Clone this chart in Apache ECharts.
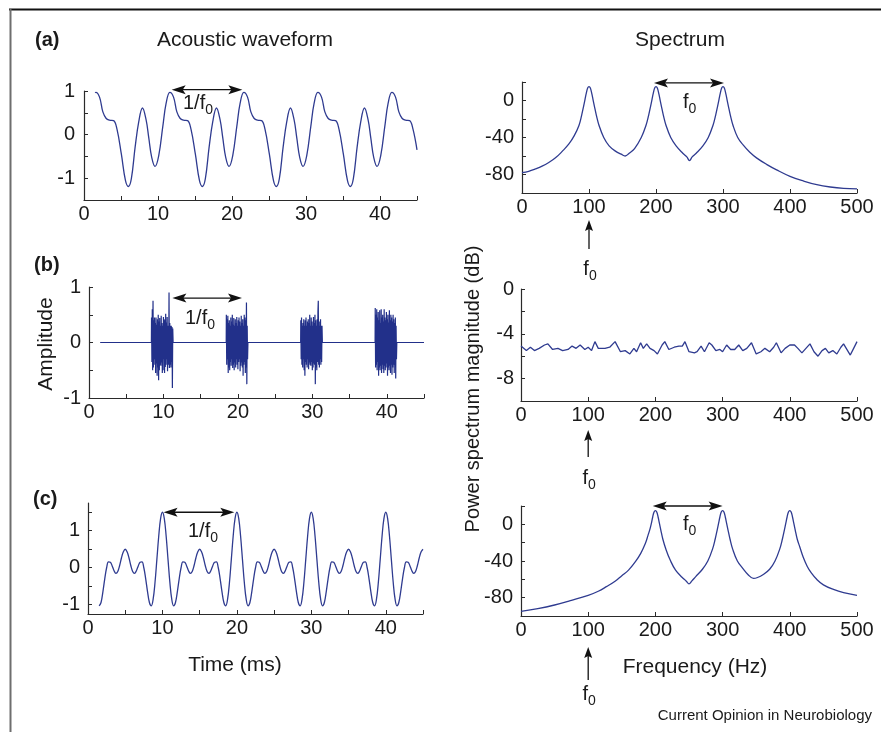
<!DOCTYPE html>
<html><head><meta charset="utf-8">
<script src="https://cdn.jsdelivr.net/npm/echarts@6/dist/echarts.min.js"></script>
<style>html,body{margin:0;padding:0;background:#fff}#main{width:881px;height:732px}</style>
</head><body><div id="main"></div>
<script>
// ---------- DATA ----------
// (a) acoustic waveform: time (ms) and amplitude
const timeA = [1.5,1.6,2.1,2.55,3.0,3.45,4.0,4.45,5.05,5.6,6.0,6.4,6.9,7.4,7.9,8.4,8.75,9.15,9.6,10.1,10.65,11.1,
  11.6,12.1,12.55,13.0,13.45,14.0,14.45,15.05,15.6,16.0,16.4,16.9,17.4,17.9,18.4,18.75,19.15,19.6,20.1,20.65,21.1,
  21.6,22.1,22.55,23.0,23.45,24.0,24.45,25.05,25.6,26.0,26.4,26.9,27.4,27.9,28.4,28.75,29.15,29.6,30.1,30.65,31.1,
  31.6,32.1,32.55,33.0,33.45,34.0,34.45,35.05,35.6,36.0,36.4,36.9,37.4,37.9,38.4,38.75,39.15,39.6,40.1,40.65,41.1,
  41.6,42.1,42.55,43.0,43.45,44.0,44.45,45.0];
const ampA = [0.96,0.97,0.86,0.52,0.37,0.33,0.32,0.13,-0.45,-1.05,-1.19,-1.01,-0.3,0.3,0.61,0.33,-0.07,-0.52,-0.73,-0.48,0.19,0.72,
  0.97,0.86,0.52,0.37,0.33,0.32,0.13,-0.45,-1.05,-1.19,-1.01,-0.3,0.3,0.61,0.33,-0.07,-0.52,-0.73,-0.48,0.19,0.72,
  0.97,0.86,0.52,0.37,0.33,0.32,0.13,-0.45,-1.05,-1.19,-1.01,-0.3,0.3,0.61,0.33,-0.07,-0.52,-0.73,-0.48,0.19,0.72,
  0.97,0.86,0.52,0.37,0.33,0.32,0.13,-0.45,-1.05,-1.19,-1.01,-0.3,0.3,0.61,0.33,-0.07,-0.52,-0.73,-0.48,0.19,0.72,
  0.97,0.86,0.52,0.37,0.33,0.32,0.13,-0.35];

// (b) noise bursts: start time (ms), sample step (ms), amplitudes
const burstStarts = [8.4, 18.45, 28.45, 38.45];
const burstStep = 0.05;
const burst1 = [0.45,-0.35,0.6,-0.5,0.75,-0.45,0.4,-0.3,0.45,-0.4,0.35,-0.55,0.45,-0.38,0.32,-0.6,0.42,-0.45,0.5,-0.68,0.38,-0.5,0.44,-0.4,0.3,-0.42,0.48,-0.36,0.35,-0.55,0.3,-0.5,0.46,-0.3,0.42,-0.55,0.4,-0.44,0.52,-0.4,0.36,-0.3,0.46,-0.52,0.3,-0.4,-0.36,0.9,-0.46,0.35,-0.4,0.3,-0.45,0.3,-0.35,0.28,-0.82,0.25];
const burst2 = [0.5,-0.4,0.42,-0.3,0.48,-0.55,0.35,-0.45,0.4,-0.5,0.3,-0.35,0.45,-0.42,0.38,-0.3,0.5,-0.46,0.32,-0.4,0.44,-0.5,0.3,-0.36,0.42,-0.45,0.35,-0.3,0.46,-0.4,0.3,-0.48,0.4,-0.35,0.45,-0.3,0.38,-0.52,0.3,-0.42,0.48,-0.36,0.35,-0.45,0.42,-0.6,0.3,-0.4,0.5,-0.35,0.45,-0.55,0.4,-0.45,0.72,-0.75,0.3,-0.3];
const burst3 = [0.4,-0.3,0.45,-0.4,0.3,-0.45,0.35,-0.3,0.42,-0.5,0.3,-0.6,0.4,-0.35,0.45,-0.4,0.3,-0.45,0.38,-0.3,0.42,-0.48,0.35,-0.36,0.5,-0.4,0.3,-0.42,0.45,-0.35,0.38,-0.5,0.3,-0.45,0.46,-0.38,0.35,-0.4,0.5,-0.75,0.4,-0.45,0.3,-0.5,0.42,-0.35,0.55,0.75,-0.4,0.3,-0.45,0.38,-0.3,0.42,-0.4,0.3,-0.35,0.3];
const burst4 = [0.62,-0.45,0.5,-0.4,0.6,-0.5,0.45,-0.35,0.55,-0.6,0.4,-0.45,0.58,-0.5,0.35,-0.42,0.6,-0.55,0.45,-0.4,0.5,-0.48,0.38,-0.55,0.6,-0.42,0.45,-0.5,0.4,-0.45,0.55,-0.38,0.42,-0.6,0.5,-0.45,0.36,-0.5,0.58,-0.42,0.4,-0.55,0.5,-0.4,0.45,-0.58,0.38,-0.45,0.5,-0.4,0.42,-0.55,0.35,-0.4,0.45,-0.65,0.3,-0.3];
const timeBStart = 1.5, timeBEnd = 45;

// (c) waveform sampled every 0.25 ms from 1.5 ms
const timeCStart = 1.5, timeCStep = 0.25;
const ampC = [-1.03,-0.94,-0.65,-0.30,0.0,0.16,0.15,0.05,-0.08,-0.15,-0.10,0.06,0.27,0.43,0.5,0.43,0.27,0.06,-0.10,-0.15,-0.08,0.05,0.15,0.16,0.0,-0.30,-0.65,-0.94,-1.03,-0.85,-0.40,0.22,0.85,1.33,
  1.5,1.33,0.85,0.22,-0.40,-0.85,-1.03,-0.94,-0.65,-0.30,0.0,0.16,0.15,0.05,-0.08,-0.15,-0.10,0.06,0.27,0.43,0.5,0.43,0.27,0.06,-0.10,-0.15,-0.08,0.05,0.15,0.16,0.0,-0.30,-0.65,-0.94,-1.03,-0.85,-0.40,0.22,0.85,1.33,
  1.5,1.33,0.85,0.22,-0.40,-0.85,-1.03,-0.94,-0.65,-0.30,0.0,0.16,0.15,0.05,-0.08,-0.15,-0.10,0.06,0.27,0.43,0.5,0.43,0.27,0.06,-0.10,-0.15,-0.08,0.05,0.15,0.16,0.0,-0.30,-0.65,-0.94,-1.03,-0.85,-0.40,0.22,0.85,1.33,
  1.5,1.33,0.85,0.22,-0.40,-0.85,-1.03,-0.94,-0.65,-0.30,0.0,0.16,0.15,0.05,-0.08,-0.15,-0.10,0.06,0.27,0.43,0.5,0.43,0.27,0.06,-0.10,-0.15,-0.08,0.05,0.15,0.16,0.0,-0.30,-0.65,-0.94,-1.03,-0.85,-0.40,0.22,0.85,1.33,
  1.5,1.33,0.85,0.22,-0.40,-0.85,-1.03,-0.94,-0.65,-0.30,0.0,0.16,0.15,0.05,-0.08,-0.15,-0.10,0.06,0.27,0.43,0.5];

// Spectra (Hz, dB)
const freqSA = [0,10,20,30,40,50,60,70,78,85,89,92,94,96,98,100,102,104,106,108,111,115,122,130,140,148,154,160,168,178,185,189,192,194,196,198,200,202,204,206,208,211,215,222,230,240,246,250,254,260,270,278,285,289,292,294,296,298,300,302,304,306,308,311,315,322,330,340,350,365,380,400,420,440,460,480,500];
const dbSA = [-78,-76.5,-74,-71,-67,-62,-55,-47,-38,-27,-16,-6,1,8,13.5,15,13.5,8,1,-6,-16,-27,-40,-49,-55,-58,-60,-57,-52,-40,-27,-16,-6,1,8,13.5,15,13.5,8,1,-6,-16,-27,-40,-49,-57,-61,-65,-61,-57,-49,-40,-27,-16,-6,1,8,13.5,15,13.5,8,1,-6,-16,-27,-40,-48,-56,-62,-69,-75,-82,-87,-91,-93.5,-95,-95.5];
const freqSB = [0,4,8,14,20,27,35,40,47,55,62,70,76,82,88,95,100,105,110,115,125,132,140,148,155,162,168,172,178,182,187,192,198,203,210,214,220,228,235,240,244,250,258,262,268,273,280,284,290,296,300,306,312,318,324,330,336,343,350,357,363,370,376,380,387,393,400,407,412,418,424,430,436,442,448,453,458,464,470,476,480,486,490,495,500];
const dbSB = [-5.1,-5.3,-5.5,-5.2,-5.5,-5.3,-5.0,-4.9,-5.4,-5.3,-5.5,-5.4,-5.1,-5.3,-5.0,-5.4,-5.2,-5.5,-4.7,-5.3,-5.3,-5.2,-4.7,-5.6,-5.5,-5.8,-5.3,-5.6,-4.8,-5.3,-4.9,-5.3,-5.5,-5.8,-5.0,-4.7,-5.4,-5.2,-5.1,-5.1,-4.7,-5.6,-5.7,-5.6,-5.1,-5.6,-4.8,-5.0,-5.5,-5.4,-5.6,-5.0,-5.4,-5.4,-5.0,-5.5,-5.3,-4.8,-5.8,-5.6,-5.3,-5.6,-5.2,-4.8,-5.7,-5.3,-5.0,-5.0,-5.3,-5.7,-5.3,-4.9,-5.6,-6.0,-5.5,-5.3,-5.7,-5.5,-5.8,-5.2,-4.9,-5.5,-5.9,-5.3,-4.7];
const freqSC = [0,25,50,75,100,115,127,140,150,160,170,178,185,189,192,194,196,198,200,202,204,206,208,211,216,222,230,240,246,250,254,260,270,278,285,289,292,294,296,298,300,302,304,306,308,311,315,322,330,338,346,352,360,370,378,385,389,392,394,396,398,400,402,404,406,408,411,415,420,426,432,440,450,465,480,500];
const dbSC = [-95,-92,-88,-83,-77.5,-73,-68,-62,-56,-50,-41,-32,-21,-12,-5,1,8,13.5,15,13.5,8,1,-6,-16,-28,-39,-50,-58,-62,-65,-62,-57,-49,-40,-27,-16,-6,1,8,13.5,15,13.5,8,1,-6,-16,-27,-40,-48,-55,-59,-58,-55,-49,-40,-27,-16,-6,1,8,13.5,15,13.5,8,1,-6,-16,-25,-36,-46,-53,-60,-66,-71,-74.5,-77.5];

// ---------- STYLE / LAYOUT ----------
const FONT = '"Liberation Sans", Arial, Helvetica, sans-serif';
const LINE = '#2f3b90', AX = '#2a2a2a', TXT = '#1a1a1a';

const pairs = (xs, ys) => xs.map((x, i) => [x, ys[i]]);
const dataA = pairs(timeA, ampA);
const dataB = [[timeBStart, 0]];
[burst1, burst2, burst3, burst4].forEach((b, k) => {
  const s = burstStarts[k];
  dataB.push([s - 0.02, 0]);
  b.forEach((v, i) => dataB.push([s + i * burstStep, v]));
  dataB.push([s + b.length * burstStep, 0]);
});
dataB.push([timeBEnd, 0]);
const dataC = ampC.map((v, i) => [timeCStart + i * timeCStep, v]);

const grids = [
  {left: 84, top: 91, width: 333, height: 109},
  {left: 89, top: 287, width: 335, height: 111},
  {left: 88, top: 503, width: 335, height: 111},
  {left: 88, top: 512, width: 335, height: 92.5},
  {left: 522, top: 82, width: 335, height: 111},
  {left: 521, top: 289, width: 336, height: 112},
  {left: 521, top: 506, width: 336, height: 110}
].map(g => Object.assign({outerBoundsMode: 'none', containLabel: false}, g));

const intFmt = v => Number.isInteger(v) ? String(v) : '';
const tenFmt = v => (v % 10 === 0) ? String(v) : '';
const fortyFmt = v => (v % 40 === 0) ? String(v) : '';
const fourFmt = v => (v % 4 === 0) ? String(v) : '';
const allFmt = v => String(v);

function xAx(gi, min, max, interval, fmt) {
  return {type: 'value', gridIndex: gi, min, max, interval,
    axisLine: {show: true, onZero: false, lineStyle: {color: AX, width: 1.2}},
    axisTick: {show: true, inside: true, length: 4, lineStyle: {color: AX, width: 1}},
    axisLabel: {show: true, margin: 4, color: TXT, fontSize: 20, fontFamily: FONT, formatter: fmt,
      showMinLabel: true, showMaxLabel: true, hideOverlap: false},
    splitLine: {show: false}};
}
function yAx(gi, min, max, interval, fmt, margin, opts) {
  const a = {type: 'value', gridIndex: gi, min, max, interval,
    axisLine: {show: true, onZero: false, lineStyle: {color: AX, width: 1.2}},
    axisTick: {show: true, inside: true, length: 4, lineStyle: {color: AX, width: 1}},
    axisLabel: {show: true, margin, color: TXT, fontSize: 20, fontFamily: FONT, formatter: fmt,
      showMinLabel: true, showMaxLabel: true, hideOverlap: false},
    splitLine: {show: false}};
  return Object.assign(a, opts || {});
}

const xAxes = [
  xAx(0, 0, 45, 5, tenFmt),
  xAx(1, 0, 45, 5, tenFmt),
  xAx(2, 0, 45, 5, tenFmt),
  {type: 'value', gridIndex: 3, min: 0, max: 45, show: false},
  xAx(4, 0, 500, 100, allFmt),
  xAx(5, 0, 500, 100, allFmt),
  xAx(6, 0, 500, 100, allFmt)
];
const yAxes = [
  yAx(0, -1.5, 1, 0.5, intFmt, 9),
  yAx(1, -1, 1, 0.5, intFmt, 8),
  {type: 'value', gridIndex: 2, min: -1.25, max: 1.75,
    axisLine: {show: true, onZero: false, lineStyle: {color: AX, width: 1.2}},
    axisTick: {show: false}, axisLabel: {show: false}, splitLine: {show: false}},
  yAx(3, -1, 1.5, 0.5, intFmt, 8, {axisLine: {show: false}}),
  yAx(4, -100, 20, 20, fortyFmt, 8),
  yAx(5, -10, 0, 2, fourFmt, 7),
  yAx(6, -100, 20, 20, fortyFmt, 8)
];

function lineSeries(xi, data, smooth, width, color) {
  return {type: 'line', xAxisIndex: xi, yAxisIndex: xi, data, smooth, symbol: 'none', showSymbol: false,
    lineStyle: {color: color || LINE, width: width || 1.3}, animation: false, silent: true};
}

const option = {
  animation: false,
  backgroundColor: '#fff',
  grid: grids, xAxis: xAxes, yAxis: yAxes,
  series: [
    lineSeries(0, dataA, 0.4, 1.3),
    lineSeries(1, dataB, false, 1.2, '#22308a'),
    lineSeries(2, dataC, 0.4, 1.3),
    lineSeries(4, pairs(freqSA, dbSA), 0.4, 1.3),
    lineSeries(5, pairs(freqSB, dbSB), false, 1.3),
    lineSeries(6, pairs(freqSC, dbSC), 0.4, 1.3)
  ]
};

const chart = echarts.init(document.getElementById('main'), null, {renderer: 'canvas'});
chart.setOption(option);

// ---------- ANNOTATIONS ----------
const ctx = document.createElement('canvas').getContext('2d');
function tw(s, size, weight) { ctx.font = (weight || '') + ' ' + size + 'px ' + FONT; return ctx.measureText(s).width; }
function txt(x, y, s, size, align, extra) {
  const o = {type: 'text', x, y, silent: true, z: 100,
    style: {text: s, font: (extra && extra.weight ? extra.weight + ' ' : '') + size + 'px ' + FONT, fill: TXT,
      align: align || 'left', verticalAlign: 'middle', textAlign: align || 'left', textVerticalAlign: 'middle'}};
  if (extra && extra.rotation) o.rotation = extra.rotation;
  return o;
}
function subLabel(x, y, main, sub, center) {
  const w1 = tw(main, 20), w2 = tw(sub, 14);
  const x0 = center ? x - (w1 + w2) / 2 : x;
  return [txt(x0, y, main, 20, 'left'), txt(x0 + w1, y + 7, sub, 14, 'left')];
}
function dblArrow(p1, p2) {
  const y = p1[1], a = p1[0], b = p2[0];
  return [
    {type: 'line', silent: true, z: 100, shape: {x1: a + 8, y1: y, x2: b - 8, y2: y}, style: {stroke: '#111', lineWidth: 1.3}},
    {type: 'polygon', silent: true, z: 100, shape: {points: [[a, y], [a + 14, y - 4.5], [a + 11, y], [a + 14, y + 4.5]]}, style: {fill: '#111'}},
    {type: 'polygon', silent: true, z: 100, shape: {points: [[b, y], [b - 14, y - 4.5], [b - 11, y], [b - 14, y + 4.5]]}, style: {fill: '#111'}}
  ];
}
function upArrow(x, tip, tail) {
  return [
    {type: 'line', silent: true, z: 100, shape: {x1: x, y1: tip + 8, x2: x, y2: tail}, style: {stroke: '#111', lineWidth: 1.3}},
    {type: 'polygon', silent: true, z: 100, shape: {points: [[x, tip], [x - 4, tip + 11], [x, tip + 9], [x + 4, tip + 11]]}, style: {fill: '#111'}}
  ];
}
const P = (gi, x, y) => chart.convertToPixel({gridIndex: gi}, [x, y]);

let g = [];
// frame
g.push({type: 'line', silent: true, shape: {x1: 9, y1: 9.5, x2: 881, y2: 9.5}, style: {stroke: '#111', lineWidth: 2}});
g.push({type: 'line', silent: true, shape: {x1: 10.5, y1: 9, x2: 10.5, y2: 732}, style: {stroke: '#6e6e6e', lineWidth: 2}});
// titles
g.push(txt(35, 40, '(a)', 20, 'left', {weight: 'bold'}));
g.push(txt(34, 265, '(b)', 20, 'left', {weight: 'bold'}));
g.push(txt(33, 499, '(c)', 20, 'left', {weight: 'bold'}));
g.push(txt(245, 40, 'Acoustic waveform', 21, 'center'));
g.push(txt(680, 40, 'Spectrum', 21, 'center'));
g.push(txt(46, 344, 'Amplitude', 21, 'center', {rotation: Math.PI / 2}));
g.push(txt(473, 389, 'Power spectrum magnitude (dB)', 20, 'center', {rotation: Math.PI / 2}));
g.push(txt(235, 665, 'Time (ms)', 21, 'center'));
g.push(txt(695, 667, 'Frequency (Hz)', 21, 'center'));
g.push(txt(872, 716, 'Current Opinion in Neurobiology', 15, 'right'));

// period arrows (left)
g = g.concat(dblArrow(P(0, 11.85, 1.03), P(0, 21.4, 1.03)));
g = g.concat(subLabel(183, 103, '1/f', '0', false));
g = g.concat(dblArrow(P(1, 11.2, 0.8), P(1, 20.55, 0.8)));
g = g.concat(subLabel(185, 318, '1/f', '0', false));
g = g.concat(dblArrow(P(2, 10.15, 1.5), P(2, 19.65, 1.5)));
g = g.concat(subLabel(188, 531, '1/f', '0', false));
// spacing arrows (right)
g = g.concat(dblArrow(P(4, 197, 19), P(4, 301.5, 19)));
g = g.concat(subLabel(683, 102, 'f', '0', false));
g = g.concat(dblArrow(P(6, 196, 20), P(6, 300, 20)));
g = g.concat(subLabel(683, 524, 'f', '0', false));
// f0 markers below spectra
[[4, -100, 27, 56, 79], [5, -10, 29, 56, 80], [6, -100, 31, 64, 81]].forEach(([gi, ymin, t, tl, lb]) => {
  const p = P(gi, 100, ymin);
  g = g.concat(upArrow(p[0], p[1] + t, p[1] + tl));
  g = g.concat(subLabel(p[0] + 1, p[1] + lb - 3, 'f', '0', true));
});

chart.setOption({graphic: g});
</script>
</body></html>
